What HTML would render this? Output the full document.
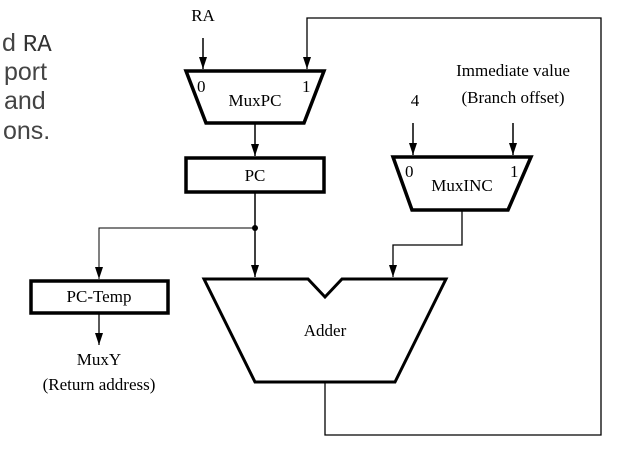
<!DOCTYPE html>
<html><head><style>
body{margin:0;background:#fff;width:617px;height:456px;overflow:hidden;position:relative}
svg{position:absolute;left:0;top:0}
</style></head><body>
<svg width="617" height="456" viewBox="0 0 617 456" font-family="Liberation Serif,serif" font-size="17" fill="#000">
<defs>
<marker id="d" viewBox="0 0 8 12" markerWidth="8" markerHeight="12" refX="4" refY="12" orient="0" markerUnits="userSpaceOnUse"><path d="M0,0 L4,12 L8,0 Z" fill="#000"/></marker></defs>
<g font-family="Liberation Sans,sans-serif" font-size="25" fill="#444">
<text x="2" y="51">d <tspan font-family="Liberation Mono,monospace" fill="#333" font-size="24">RA</tspan></text>
<text x="4" y="80">port</text>
<text x="4" y="109">and</text>
<text x="3" y="139">ons.</text>
</g>
<g stroke="#000" fill="none">
<line x1="203" y1="38" x2="203" y2="69" stroke-width="1.5" marker-end="url(#d)"/>
<polyline points="325,382 325,435 601,435 601,18 307,18 307,69" stroke-width="1.3" marker-end="url(#d)"/>
<polygon points="186,71 324,71 304,123 206,123" stroke-width="3.5" fill="#fff"/>
<line x1="255" y1="123" x2="255" y2="156" stroke-width="1.5" marker-end="url(#d)"/>
<rect x="186" y="158" width="138" height="34" stroke-width="3.5"/>
<line x1="255" y1="192" x2="255" y2="277" stroke-width="1.5" marker-end="url(#d)"/>
<polyline points="255,228 99,228 99,279" stroke-width="1" marker-end="url(#d)"/>
<rect x="31" y="281" width="137" height="32" stroke-width="3.5"/>
<line x1="99" y1="313" x2="99" y2="345" stroke-width="1.3" marker-end="url(#d)"/>
<polygon points="204,279 308,279 325,297 342,279 446,279 395,382 255,382" stroke-width="3" fill="#fff"/>
<line x1="413" y1="123" x2="413" y2="155" stroke-width="1.5" marker-end="url(#d)"/>
<line x1="513" y1="123" x2="513" y2="155" stroke-width="1.5" marker-end="url(#d)"/>
<polygon points="393,157 531,157 508,210 412,210" stroke-width="3.5" fill="#fff"/>
<polyline points="462,210 462,245 393,245 393,277" stroke-width="1.3" marker-end="url(#d)"/>
</g>
<circle cx="255" cy="228" r="3"/>
<text x="203" y="21" text-anchor="middle">RA</text>
<text x="197" y="92">0</text>
<text x="302" y="92">1</text>
<text x="255" y="106" text-anchor="middle">MuxPC</text>
<text x="255" y="181" text-anchor="middle">PC</text>
<text x="99" y="302" text-anchor="middle">PC-Temp</text>
<text x="99" y="365" text-anchor="middle">MuxY</text>
<text x="99" y="390" text-anchor="middle">(Return address)</text>
<text x="325" y="336" text-anchor="middle">Adder</text>
<text x="415" y="106" text-anchor="middle">4</text>
<text x="513" y="76" text-anchor="middle">Immediate value</text>
<text x="513" y="103" text-anchor="middle">(Branch offset)</text>
<text x="405" y="177">0</text>
<text x="510" y="177">1</text>
<text x="462" y="191" text-anchor="middle">MuxINC</text>
</svg>
</body></html>
